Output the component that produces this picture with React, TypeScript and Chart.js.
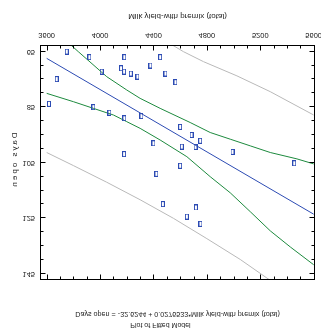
import React, { useEffect, useRef } from 'react';
import { Chart, registerables } from 'chart.js';

Chart.register(...registerables);

// Observations
const milkYield = [3750, 3920, 4182, 4450, 3675, 4012, 4157, 4180, 4230, 4280, 4377, 4490, 4565, 3617, 3950, 4070, 4182, 4310, 4600, 4400, 4612, 4180, 4685, 4750, 4715, 4992, 4600, 4422, 4470, 4650, 5455, 4718, 4752];
const daysOpen = [65.0, 67.0, 67.0, 67.0, 74.9, 72.2, 71.0, 72.2, 72.9, 74.0, 70.0, 72.9, 76.0, 83.8, 85.0, 87.0, 89.0, 88.2, 92.1, 98.0, 99.2, 101.9, 95.0, 97.1, 99.3, 101.1, 106.1, 109.0, 119.9, 124.4, 105.2, 121.1, 127.0];

// Fitted line
const fitX = [3600, 5600];
const fitY = [67.4, 123.5];

// Confidence limits for the mean
const confLowX = [3600, 3837, 4050, 4200, 4300, 4450, 4675, 4825, 4975, 5125, 5275, 5475, 5600];
const confLowY = [54.8, 65.0, 74.0, 78.8, 81.8, 85.4, 90.5, 94.1, 96.5, 98.9, 101.3, 103.6, 105.4];
const confHighX = [3600, 3800, 3950, 4100, 4200, 4300, 4450, 4650, 4825, 4975, 5125, 5275, 5425, 5600];
const confHighY = [80.0, 83.0, 85.4, 87.8, 90.2, 92.6, 96.8, 102.8, 110.0, 115.8, 122.6, 129.5, 135.3, 141.7];

// Prediction limits
const predLowX = [3600, 4050, 4300, 4625, 4775, 5025, 5275, 5600];
const predLowY = [33.5, 48.0, 55.7, 65.0, 68.6, 73.7, 79.4, 87.8];
const predHighX = [3600, 3800, 4050, 4300, 4550, 4800, 5050, 5250, 5600];
const predHighY = [101.3, 106.0, 112.0, 118.3, 125.0, 132.3, 139.8, 146.5, 158.0];

// Ticks and texts
const xTickLabels = [3600, 4000, 4400, 4800, 5200, 5600];
const yTickLabels = [65, 85, 105, 125, 145];
const chartTitle = 'Plot of Fitted Model';
const chartSubtitle = 'Days open = -32.6244 + 0.0276533*Milk yield-with premix (total)';
const xTitle = 'Milk yield-with premix (total)';
const yTitle = 'Days open';

const FONT = 'Liberation Sans, Arial, sans-serif';
const BLUE = '#2c4bb3';
const GREEN = '#1d8a3e';
const GRAY = '#b9b9b9';
const TEXT = '#222';

const toXY = (xs: number[], ys: number[]) => xs.map((x, i) => ({ x, y: ys[i] }));

const framePlugin = {
  id: 'frameAndText',
  afterDraw(chart: any) {
    const { ctx, chartArea: a, scales } = chart;
    const xs = scales.x;
    const ys = scales.y;
    ctx.save();
    ctx.strokeStyle = '#000';
    ctx.lineWidth = 1;
    const L = Math.round(a.left) + 0.5;
    const R = Math.round(a.right) - 0.5;
    const T = Math.round(a.top) + 0.5;
    const B = Math.round(a.bottom) - 0.5;
    ctx.strokeRect(L, T, R - L, B - T);
    ctx.beginPath();
    for (let v = 3600; v <= 5600; v += 100) {
      const px = Math.round(xs.getPixelForValue(v)) + 0.5;
      const len = v % 400 === 0 ? 5 : 3;
      ctx.moveTo(px, B);
      ctx.lineTo(px, B - len);
      ctx.moveTo(px, T);
      ctx.lineTo(px, T + len);
    }
    for (let v = 65; v <= 145; v += 5) {
      const py = Math.round(ys.getPixelForValue(v)) + 0.5;
      const len = (v - 65) % 20 === 0 ? 5 : 3;
      ctx.moveTo(L, py);
      ctx.lineTo(L + len, py);
      ctx.moveTo(R, py);
      ctx.lineTo(R - len, py);
    }
    ctx.stroke();

    ctx.fillStyle = TEXT;
    ctx.textBaseline = 'middle';
    ctx.font = `7.5px ${FONT}`;
    ctx.textAlign = 'center';
    xTickLabels.forEach((v) => {
      ctx.fillText(String(v), xs.getPixelForValue(v), a.bottom + 9.5);
    });
    ctx.textAlign = 'right';
    yTickLabels.forEach((v) => {
      ctx.fillText(String(v), a.left - 5, ys.getPixelForValue(v));
    });

    ctx.textAlign = 'center';
    ctx.font = `8px ${FONT}`;
    ctx.fillText(xTitle, (a.left + a.right) / 2, a.bottom + 28.5);

    ctx.font = `7px ${FONT}`;
    ctx.fillText(chartTitle, chart.width / 2, 8);
    ctx.font = `7.2px ${FONT}`;
    ctx.fillText(chartSubtitle, (a.left + a.right) / 2, 19.5);

    ctx.save();
    ctx.translate(15, (a.top + a.bottom) / 2 + 2);
    ctx.rotate(-Math.PI / 2);
    ctx.font = `8px ${FONT}`;
    (ctx as any).letterSpacing = '2px';
    ctx.fillText(yTitle, 0, 0);
    ctx.restore();

    ctx.restore();
  },
};

export default function App() {
  const ref = useRef<HTMLCanvasElement | null>(null);

  useEffect(() => {
    const canvas = ref.current;
    if (!canvas) return;
    const pt = document.createElement('canvas');
    pt.width = 4;
    pt.height = 6;
    const pc = pt.getContext('2d')!;
    pc.strokeStyle = BLUE;
    pc.lineWidth = 1;
    pc.strokeRect(0.5, 0.5, 3, 5);

    const lineDs = (label: string, xs: number[], ys: number[], color: string) => ({
      label,
      data: toXY(xs, ys),
      showLine: true,
      borderColor: color,
      borderWidth: 1,
      pointRadius: 0,
      tension: 0,
      fill: false,
    });

    const chart = new Chart(canvas, {
      type: 'scatter',
      data: {
        datasets: [
          {
            label: 'Observed',
            data: toXY(milkYield, daysOpen),
            pointStyle: pt as any,
            pointRadius: 3,
            showLine: false,
          },
          lineDs('Fitted', fitX, fitY, BLUE),
          lineDs('Conf low', confLowX, confLowY, GREEN),
          lineDs('Conf high', confHighX, confHighY, GREEN),
          lineDs('Pred low', predLowX, predLowY, GRAY),
          lineDs('Pred high', predHighX, predHighY, GRAY),
        ],
      },
      options: {
        responsive: false,
        animation: false,
        devicePixelRatio: 1,
        layout: { padding: { left: 40, right: 6, top: 53, bottom: 45 } },
        plugins: { legend: { display: false }, tooltip: { enabled: false } },
        scales: {
          x: { type: 'linear', min: 3550, max: 5610, display: false },
          y: { type: 'linear', min: 62.6, max: 147.2, display: false },
        },
      },
      plugins: [framePlugin],
    });
    return () => chart.destroy();
  }, []);

  return (
    <div
      style={{
        position: 'fixed',
        left: 0,
        top: 0,
        width: 321,
        height: 333,
        background: '#fff',
        transform: 'scaleY(-1)',
      }}
    >
      <canvas ref={ref} width={321} height={333} style={{ display: 'block' }} />
    </div>
  );
}
